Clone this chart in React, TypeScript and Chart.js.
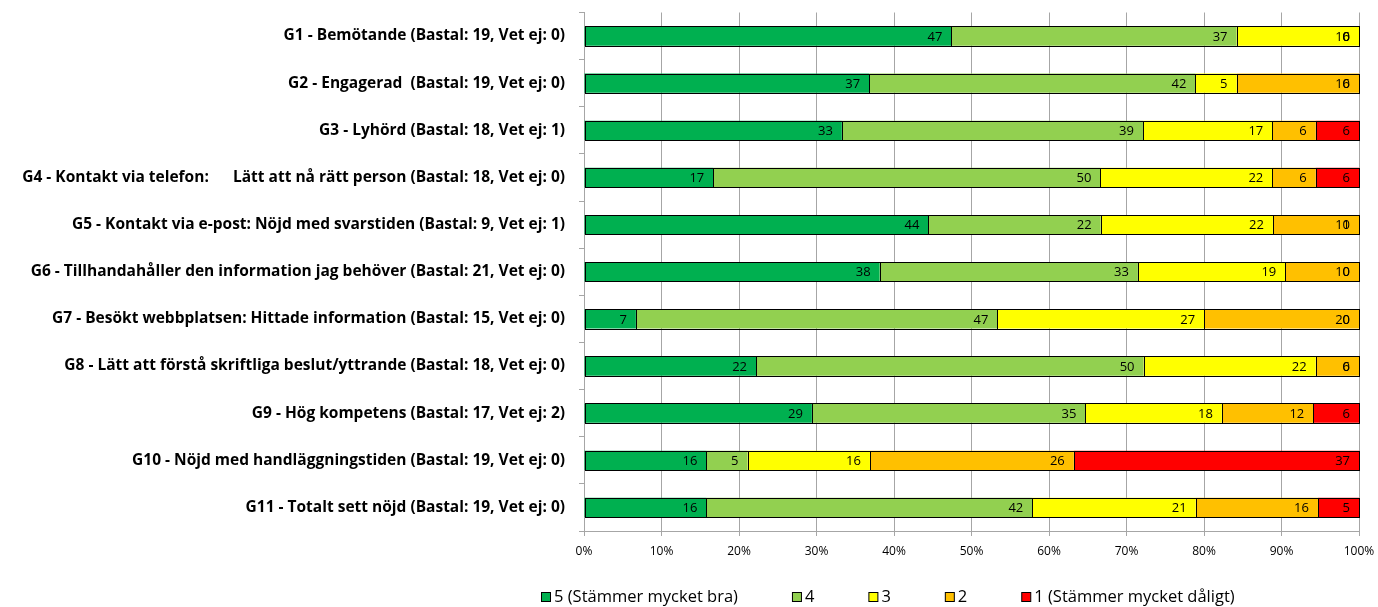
import React, { useEffect, useRef } from "react";
import { Chart, registerables } from "chart.js";

Chart.register(...registerables);

// Survey questions (category axis)
const categories = [
  "G1 - Bemötande (Bastal: 19, Vet ej: 0)",
  "G2 - Engagerad  (Bastal: 19, Vet ej: 0)",
  "G3 - Lyhörd (Bastal: 18, Vet ej: 1)",
  "G4 - Kontakt via telefon:      Lätt att nå rätt person (Bastal: 18, Vet ej: 0)",
  "G5 - Kontakt via e-post: Nöjd med svarstiden (Bastal: 9, Vet ej: 1)",
  "G6 - Tillhandahåller den information jag behöver (Bastal: 21, Vet ej: 0)",
  "G7 - Besökt webbplatsen: Hittade information (Bastal: 15, Vet ej: 0)",
  "G8 - Lätt att förstå skriftliga beslut/yttrande (Bastal: 18, Vet ej: 0)",
  "G9 - Hög kompetens (Bastal: 17, Vet ej: 2)",
  "G10 - Nöjd med handläggningstiden (Bastal: 19, Vet ej: 0)",
  "G11 - Totalt sett nöjd (Bastal: 19, Vet ej: 0)",
];

// Answer shares in percent per grade
const grade5 = [47.4, 36.8, 33.3, 16.7, 44.4, 38.1, 6.7, 22.2, 29.4, 15.8, 15.8];
const grade4 = [36.8, 42.1, 38.9, 50.0, 22.2, 33.3, 46.7, 50.0, 35.3, 5.3, 42.1];
const grade3 = [15.8, 5.3, 16.7, 22.2, 22.2, 19.0, 26.7, 22.2, 17.6, 15.8, 21.1];
const grade2 = [0, 15.8, 5.6, 5.6, 11.1, 9.5, 20.0, 5.6, 11.8, 26.3, 15.8];
const grade1 = [0, 0, 5.6, 5.6, 0, 0, 0, 0, 5.9, 36.8, 5.3];

const seriesNames = [
  "5 (Stämmer mycket bra)",
  "4",
  "3",
  "2",
  "1 (Stämmer mycket dåligt)",
];
const seriesValues = [grade5, grade4, grade3, grade2, grade1];
const seriesColors = ["#00B050", "#92D050", "#FFFF00", "#FFC000", "#FF0000"];

const FONT = "'Open Sans', 'DejaVu Sans', sans-serif";
const GRID = "#a6a6a6";

// Row totals, used to draw each bar as a 100 % stack
const rowTotals = categories.map((_, i) =>
  seriesValues.reduce((s, arr) => s + arr[i], 0)
);

// Crisp black segment outlines plus the value at the inner right end of each segment
const segmentDecor = {
  id: "segmentDecor",
  afterDatasetsDraw(chart: any) {
    const ctx = chart.ctx;
    ctx.save();
    ctx.strokeStyle = "#000";
    ctx.lineWidth = 1;
    chart.data.datasets.forEach((_: any, di: number) => {
      const meta = chart.getDatasetMeta(di);
      meta.data.forEach((el: any) => {
        const l = Math.round(Math.min(el.x, el.base));
        const r = Math.round(Math.max(el.x, el.base));
        if (r - l < 1) return;
        const t = Math.round(el.y - el.height / 2);
        const b = Math.round(el.y + el.height / 2);
        ctx.strokeRect(l + 0.5, t + 0.5, r - l, b - t);
      });
    });
    ctx.font = `13px ${FONT}`;
    ctx.fillStyle = "#000";
    ctx.textAlign = "right";
    ctx.textBaseline = "middle";
    chart.data.datasets.forEach((_: any, di: number) => {
      const meta = chart.getDatasetMeta(di);
      meta.data.forEach((el: any, i: number) => {
        const v = seriesValues[di][i];
        ctx.fillText(String(Math.round(v)), el.x - 9, el.y + 1);
      });
    });
    ctx.restore();
  },
};

// Legend row under the axis
const bottomLegend = {
  id: "bottomLegend",
  afterDraw(chart: any) {
    const ctx = chart.ctx;
    ctx.save();
    ctx.font = `16.5px ${FONT}`;
    ctx.textBaseline = "middle";
    ctx.textAlign = "left";
    let x = 541;
    const y = 597;
    seriesNames.forEach((name, i) => {
      ctx.fillStyle = seriesColors[i];
      ctx.fillRect(x + 0.5, y - 4.5, 9, 9);
      ctx.strokeStyle = "#000";
      ctx.lineWidth = 1;
      ctx.strokeRect(x + 0.5, y - 4.5, 9, 9);
      ctx.fillStyle = "#000";
      ctx.fillText(name, x + 13, y);
      x += 13 + ctx.measureText(name).width + 54;
    });
    ctx.restore();
  },
};

export default function App() {
  const ref = useRef<HTMLCanvasElement | null>(null);

  useEffect(() => {
    if (!ref.current) return;
    const chart = new Chart(ref.current, {
      type: "bar",
      data: {
        labels: categories,
        datasets: seriesNames.map((name, di) => ({
          label: name,
          data: seriesValues[di].map((v, i) => (v / rowTotals[i]) * 100),
          backgroundColor: seriesColors[di],
          borderWidth: 0,
          categoryPercentage: 1,
          barPercentage: 0.41,
        })),
      },
      options: {
        indexAxis: "y",
        animation: false,
        responsive: false,
        maintainAspectRatio: false,
        layout: { padding: { top: 12.5, right: 19, bottom: 46, left: 0 } },
        plugins: {
          legend: { display: false },
          tooltip: { enabled: false },
        },
        scales: {
          x: {
            stacked: true,
            min: 0,
            max: 100,
            ticks: {
              stepSize: 10,
              callback: (v: any) => `${v}%`,
              color: "#000",
              font: { family: FONT, size: 12 },
              padding: 8,
            },
            grid: { color: GRID, tickLength: 5 },
            border: { color: GRID },
            afterFit: (s: any) => {
              s.height = 30;
              s.paddingLeft = 0;
              s.paddingRight = 0;
            },
          },
          y: {
            stacked: true,
            ticks: {
              color: "#000",
              font: { family: FONT, size: 15.5, weight: "bold" },
              padding: 14,
              autoSkip: false,
            },
            grid: {
              offset: true,
              drawOnChartArea: false,
              color: GRID,
              tickLength: 5,
            },
            border: { color: GRID },
            afterFit: (s: any) => {
              s.width = 584;
              s.paddingTop = 0;
              s.paddingBottom = 0;
            },
          },
        },
      },
      plugins: [segmentDecor, bottomLegend],
    });
    return () => chart.destroy();
  }, []);

  return (
    <div style={{ position: "fixed", left: 0, top: 0, width: 1378, height: 607, background: "#fff" }}>
      <canvas ref={ref} width={1378} height={607} style={{ display: "block" }} />
    </div>
  );
}
